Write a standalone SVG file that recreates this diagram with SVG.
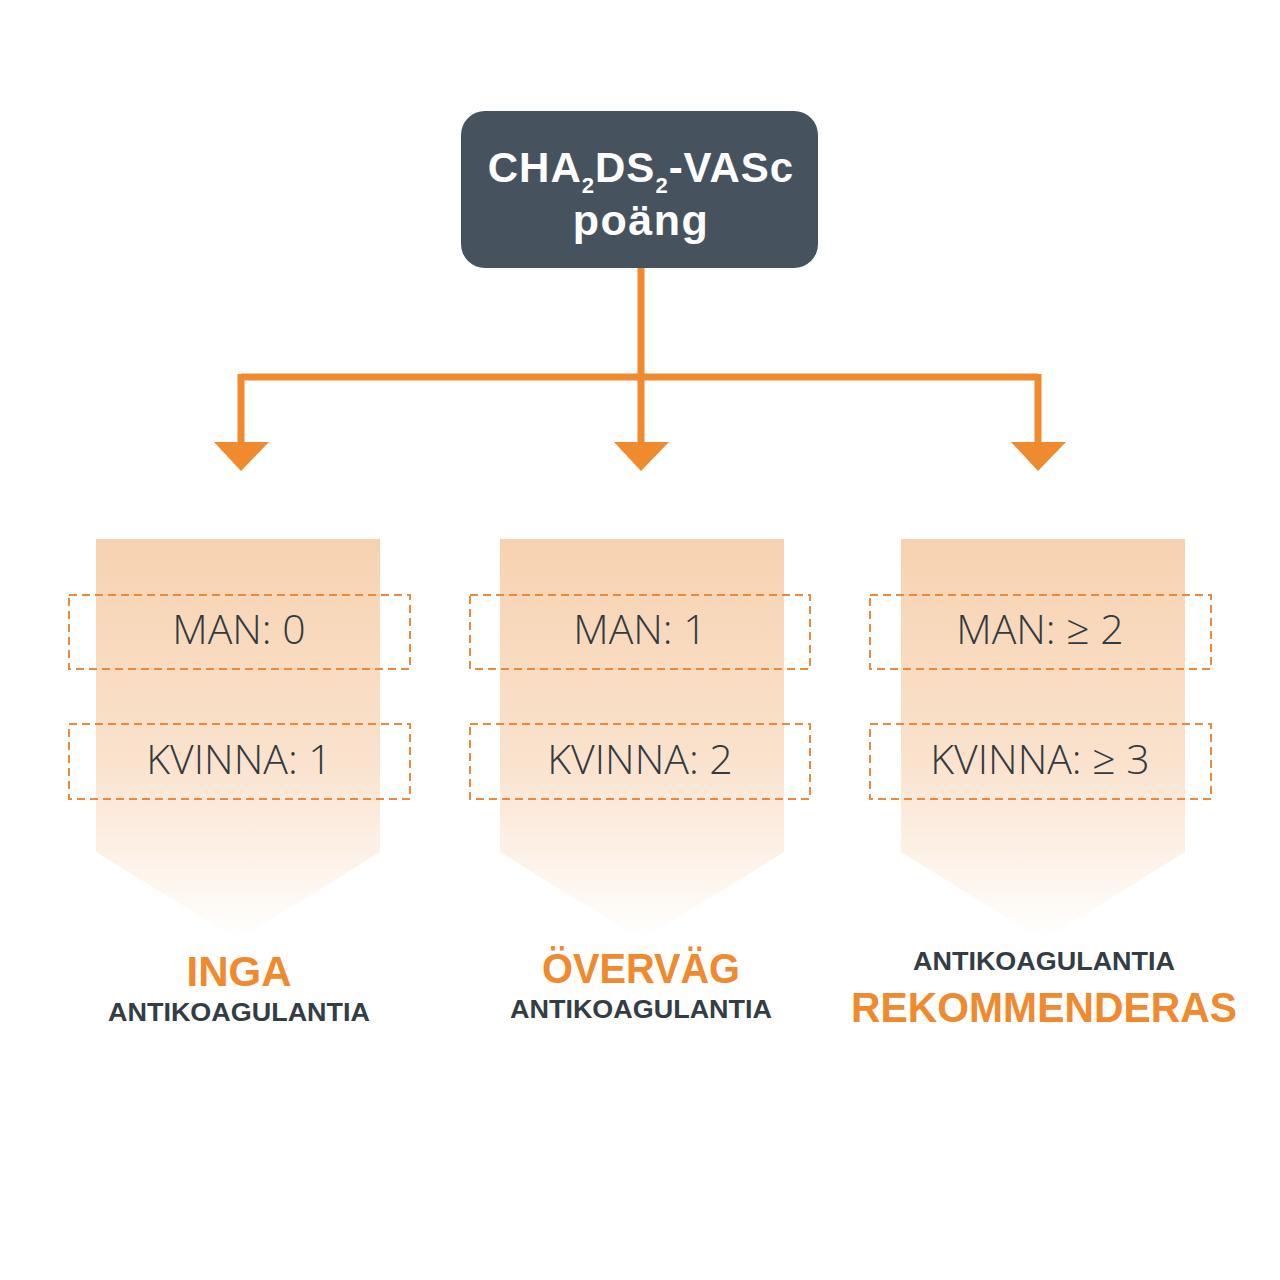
<svg xmlns="http://www.w3.org/2000/svg" width="1280" height="1280" viewBox="0 0 1280 1280">
<defs>
<linearGradient id="chev" x1="0" y1="0" x2="0" y2="1">
<stop offset="0" stop-color="#f7d2b0"/>
<stop offset="0.55" stop-color="#fae2cd"/>
<stop offset="1" stop-color="#ffffff"/>
</linearGradient>
<style>
.title{font-family:"Liberation Sans",Arial,sans-serif;font-weight:bold;fill:#ffffff;}
.val{font-family:"Open Sans","Liberation Sans",sans-serif;font-weight:300;font-size:41px;fill:#333a40;text-anchor:middle;}
.big{font-family:"Liberation Sans",Arial,sans-serif;font-weight:bold;font-size:42px;fill:#ef8a2e;text-anchor:middle;}
.small{font-family:"Liberation Sans",Arial,sans-serif;font-weight:bold;font-size:25px;fill:#333d45;text-anchor:middle;}
.dash{fill:none;stroke:#ea8a3a;stroke-width:2;stroke-dasharray:8 5;}
.conn{fill:none;stroke:#ef8a2e;stroke-width:7;}
.head{fill:#ef8a2e;}
</style>
</defs>
<rect width="1280" height="1280" fill="#ffffff"/>
<g id="root">
<rect x="461" y="111" width="357" height="157" rx="24" fill="#46535e"/>
<text class="title" x="641" y="182" text-anchor="middle" font-size="42" letter-spacing="1">CHA<tspan font-size="22" dy="11">2</tspan><tspan dy="-11">DS</tspan><tspan font-size="22" dy="11">2</tspan><tspan dy="-11">-VASc</tspan></text>
<text class="title" x="641" y="235" text-anchor="middle" font-size="43" letter-spacing="1.5">poäng</text>
</g>
<g id="connectors">
<path class="conn" d="M641 268 V377 M241 377 H1038 M241 374 V444 M641 377 V444 M1038 374 V444"/>
<polygon class="head" points="214,442 269,442 241,471"/>
<polygon class="head" points="614,442 669,442 641,471"/>
<polygon class="head" points="1011,442 1066,442 1038,471"/>
</g>
<g id="col1">
<polygon points="96,539 380,539 380,852 238,940 96,852" fill="url(#chev)"/>
<rect class="dash" x="69" y="595" width="341" height="74"/>
<rect class="dash" x="69" y="724" width="341" height="75"/>
<text class="val" x="239" y="644">MAN: 0</text>
<text class="val" x="239" y="774">KVINNA: 1</text>
<text class="big" x="239" y="986">INGA</text>
<text class="small" x="239" y="1021" textLength="262" lengthAdjust="spacingAndGlyphs">ANTIKOAGULANTIA</text>
</g>
<g id="col2">
<polygon points="500,539 784,539 784,852 642,940 500,852" fill="url(#chev)"/>
<rect class="dash" x="470" y="595" width="340" height="74"/>
<rect class="dash" x="470" y="724" width="340" height="75"/>
<text class="val" x="640" y="644">MAN: 1</text>
<text class="val" x="640" y="774">KVINNA: 2</text>
<text class="big" x="641" y="983" textLength="198" lengthAdjust="spacingAndGlyphs">ÖVERVÄG</text>
<text class="small" x="641" y="1018" textLength="262" lengthAdjust="spacingAndGlyphs">ANTIKOAGULANTIA</text>
</g>
<g id="col3">
<polygon points="901,539 1185,539 1185,852 1043,940 901,852" fill="url(#chev)"/>
<rect class="dash" x="870" y="595" width="341" height="74"/>
<rect class="dash" x="870" y="724" width="341" height="75"/>
<text class="val" x="1040" y="644">MAN: ≥ 2</text>
<text class="val" x="1040" y="774">KVINNA: ≥ 3</text>
<text class="small" x="1044" y="970" textLength="262" lengthAdjust="spacingAndGlyphs">ANTIKOAGULANTIA</text>
<text class="big" x="1044" y="1022" textLength="386" lengthAdjust="spacingAndGlyphs">REKOMMENDERAS</text>
</g>
</svg>
